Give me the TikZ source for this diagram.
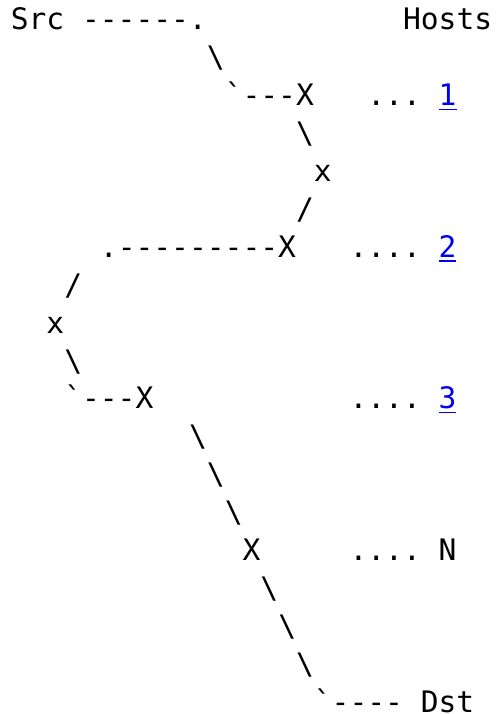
\documentclass[tikz,border=0pt]{standalone}
\usepackage{fontspec}
\setmonofont{DejaVu Sans Mono}
\definecolor{linkblue}{RGB}{0,0,238}
\newcommand\hostlink[1]{\textcolor{linkblue}{\makebox[0pt][l]{\rule[-4.5pt]{0.602em}{1.5pt}}#1}}
\newcommand\bs{\textbackslash}
\newcommand\gr{\textasciigrave}
\tikzset{
  ch/.style={anchor=base west, inner sep=0pt, outer sep=0pt, text=black,
    font=\ttfamily\fontsize{29.6}{35}\selectfont}
}
\newcommand\asciiat[4]{\node[ch] (#1) at ({10.8+17.83*#2},{684-37.9*#3}) {#4};}
\begin{document}
\begin{tikzpicture}[x=1pt,y=1pt]
\useasboundingbox (0,0) rectangle (496,714);
\asciiat{src}{0}{0}{Src ------.}
\asciiat{hosts}{22}{0}{Hosts}
\asciiat{a1}{11}{1}{\bs}
\asciiat{x1}{12}{2}{\gr---X}
\asciiat{h1}{20}{2}{... \hostlink{1}}
\asciiat{a3}{16}{3}{\bs}
\asciiat{m1}{17}{4}{x}
\asciiat{a5}{16}{5}{/}
\asciiat{x2}{5}{6}{.---------X}
\asciiat{h2}{19}{6}{.... \hostlink{2}}
\asciiat{a7}{3}{7}{/}
\asciiat{m2}{2}{8}{x}
\asciiat{a9}{3}{9}{\bs}
\asciiat{x3}{3}{10}{\gr---X}
\asciiat{h3}{19}{10}{.... \hostlink{3}}
\asciiat{a11}{10}{11}{\bs}
\asciiat{a12}{11}{12}{\bs}
\asciiat{a13}{12}{13}{\bs}
\asciiat{xn}{13}{14}{X}
\asciiat{hn}{19}{14}{.... N}
\asciiat{a15}{14}{15}{\bs}
\asciiat{a16}{15}{16}{\bs}
\asciiat{a17}{16}{17}{\bs}
\asciiat{dst}{17}{18}{\gr---- Dst}
\end{tikzpicture}
\end{document}
